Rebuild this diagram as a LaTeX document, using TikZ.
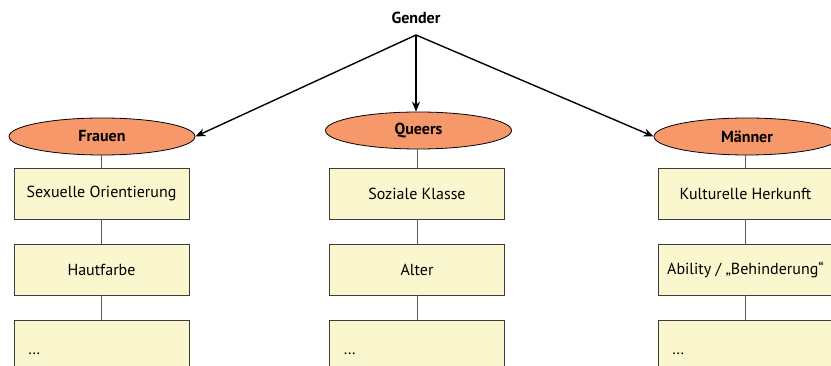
\documentclass[tikz,border=0pt]{standalone}
\usepackage{fontspec}
\setmainfont{PT Sans}
\usetikzlibrary{shapes.geometric,arrows.meta}
\definecolor{groupfill}{RGB}{246,152,106}
\definecolor{boxfill}{RGB}{250,246,206}
\definecolor{boxline}{RGB}{60,60,60}
\definecolor{linkgray}{RGB}{90,90,90}
\tikzset{
  labelfont/.style={font=\fontsize{16}{18}\selectfont},
  group/.style={ellipse, draw=black, line width=0.8pt, fill=groupfill,
    minimum width=186pt, minimum height=37pt, inner sep=0pt,
    font=\fontsize{16}{18}\selectfont\bfseries},
  catbox/.style={rectangle, draw=boxline, line width=0.8pt, fill=boxfill,
    minimum width=175pt, minimum height=51pt, inner sep=0pt, labelfont},
  openbox/.style={catbox, minimum height=68pt, text width=147pt, align=left,
    inner xsep=14pt},
  link/.style={draw=linkgray, line width=0.9pt},
  branch/.style={draw=black, line width=1.4pt, -{Stealth[length=10pt,width=8pt]}}
}
\begin{document}
\begin{tikzpicture}[x=1pt,y=-1pt]
\useasboundingbox (0,0) rectangle (831,366);
\begin{scope}
\clip (0,0) rectangle (831,366);
% top level
\node[font=\fontsize{16}{18}\selectfont\bfseries] (gender) at (416,18) {Gender};
\coordinate (hub) at (416,35);

% the three groups
\node[group] (frauen) at (102,136.5) {Frauen};
\node[group] (queers) at (418.5,130.5) {Queers};
\node[group] (maenner) at (747,136.5) {Männer};

% left column
\node[catbox] (f1) at (101.5,193.5) {Sexuelle Orientierung};
\node[catbox] (f2) at (101.5,269.5) {Hautfarbe};
\node[openbox] (f3) at (101.5,354) {…};

% middle column
\node[catbox] (q1) at (417,193.5) {Soziale Klasse};
\node[catbox] (q2) at (417,269.5) {Alter};
\node[openbox] (q3) at (417,354) {…};

% right column
\node[catbox] (m1) at (745.5,193.5) {Kulturelle Herkunft};
\node[catbox] (m2) at (745.5,269.5) {Ability / „Behinderung“};
\node[openbox] (m3) at (745.5,354) {…};

% arrows from Gender
\draw[branch] (hub) -- (frauen.east);
\draw[branch] (hub) -- (hub |- queers.north);
\draw[branch] (hub) -- (maenner.west);

% vertical links
\draw[link] (f1.north) -- (f1.north |- frauen.south);
\draw[link] (f1.south) -- (f2.north);
\draw[link] (f2.south) -- (f3.north);
\draw[link] (q1.north) -- (q1.north |- queers.south);
\draw[link] (q1.south) -- (q2.north);
\draw[link] (q2.south) -- (q3.north);
\draw[link] (m1.north) -- (m1.north |- maenner.south);
\draw[link] (m1.south) -- (m2.north);
\draw[link] (m2.south) -- (m3.north);
\end{scope}
\end{tikzpicture}
\end{document}
